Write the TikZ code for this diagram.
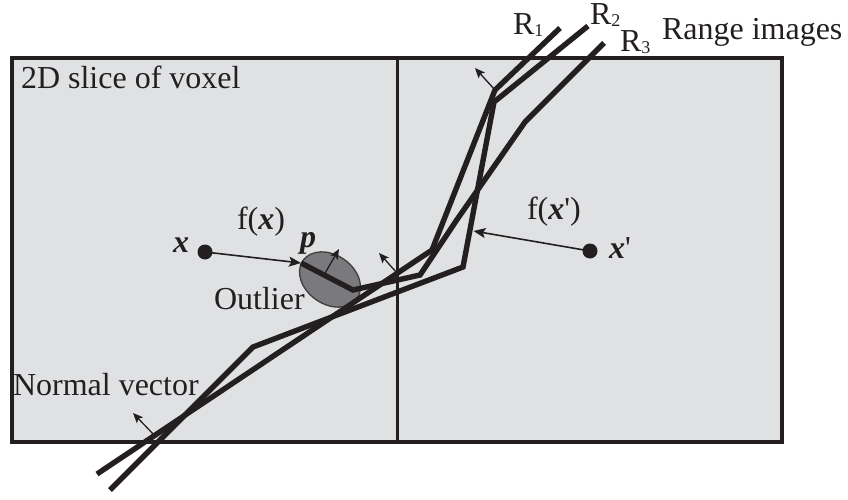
\documentclass[tikz,border=0pt]{standalone}
\usepackage{fontspec}
\setmainfont{Liberation Serif}
\usetikzlibrary{arrows.meta}
\definecolor{ink}{HTML}{231F20}
\definecolor{panel}{HTML}{E0E1E3}
\definecolor{blob}{HTML}{7A7A7D}
\newcommand{\vecx}{\textbf{\textit{x}}}
\newcommand{\vecp}{\textbf{\textit{p}}}
\newcommand{\rsub}[1]{{\fontsize{18}{18}\selectfont\raisebox{-1.6pt}{#1}}}
\tikzset{
  rangeline/.style={line width=5.4pt, draw=ink, line join=miter, miter limit=6},
  framebox/.style={line width=3.6pt, draw=ink, fill=panel},
  dividerline/.style={line width=3pt, draw=ink},
  normalarrow/.style={line width=1.3pt, draw=ink, -{Stealth[length=10pt,width=8.5pt,inset=2pt]}},
  farrow/.style={line width=1.6pt, draw=ink, -{Stealth[length=12pt,width=10pt,inset=2.5pt]}},
  lbl/.style={anchor=base west, inner sep=0pt, outer sep=0pt, font=\fontsize{32}{36}\selectfont, text=ink},
  dotnode/.style={circle, fill=ink, inner sep=0pt, minimum size=15pt},
  blobstyle/.style={fill=blob, draw=ink!85, line width=1.4pt},
}
\begin{document}
\begin{tikzpicture}[x=1pt, y=-1pt]
\useasboundingbox (0,0) rectangle (848,500);

% panel
\draw[framebox] (12,58) rectangle (782,442);
\coordinate (divtop) at (397,58);
\coordinate (divbot) at (397,442);
\draw[dividerline] (divtop) -- (divbot);

% outlier ellipse
\coordinate (ec) at (330,279.5);
\draw[blobstyle, rotate around={-35:(ec)}] (ec) ellipse [x radius=33pt, y radius=24.5pt];

% range image vertices
\coordinate (r1a) at (560,28);
\coordinate (r1b) at (495,90);
\coordinate (r1c) at (432,250);
\coordinate (r1d) at (97,474);
\coordinate (r2a) at (588,26);
\coordinate (r2b) at (494,102);
\coordinate (r2c) at (463,267);
\coordinate (r2d) at (253,347);
\coordinate (r2e) at (110,490);
\coordinate (r3a) at (604,43);
\coordinate (r3b) at (525,122);
\coordinate (r3c) at (456,221);
\coordinate (r3d) at (420,275);
\coordinate (r3e) at (353,290);
\coordinate (p) at (301,263);

\draw[rangeline] (r1a) -- (r1b) -- (r1c) -- (r1d);
\draw[rangeline] (r2a) -- (r2b) -- (r2c) -- (r2d) -- (r2e);
\draw[rangeline] (r3a) -- (r3b) -- (r3c) -- (r3d) -- (r3e) -- (p);

% normal vectors
\coordinate (n1t) at (495,90);   \coordinate (n1h) at (475,68);
\coordinate (n2t) at (397,273);  \coordinate (n2h) at (379,253);
\coordinate (n3t) at (324,275);  \coordinate (n3h) at (339,249);
\coordinate (n4t) at (155,436);  \coordinate (n4h) at (133,413);
\draw[normalarrow] (n1t) -- (n1h);
\draw[normalarrow] (n2t) -- (n2h);
\draw[normalarrow] (n3t) -- (n3h);
\draw[normalarrow] (n4t) -- (n4h);

% points x and x'
\node[dotnode] (xdot) at (205,252) {};
\node[dotnode] (xpdot) at (590,251) {};
\coordinate (fxpt) at (473.5,231);
\draw[farrow] (xdot.center) -- (p);
\draw[farrow] (xpdot.center) -- (fxpt);

% labels
\node[lbl] (title) at (21,89) {2D slice of voxel};
\node[lbl] (normal) at (13,395) {Normal vector};
\node[lbl] (outlier) at (214,309) {Outlier};
\node[lbl] (range) at (662,40) {Range images};
\node[lbl] (R1) at (513,35) {R\rsub{1}};
\node[lbl] (R2) at (590,25) {R\rsub{2}};
\node[lbl] (R3) at (620,52) {R\rsub{3}};
\node[lbl] (xlab) at (173,252) {\vecx};
\node[lbl] (xplab) at (609,258) {\vecx\textquotesingle};
\node[lbl] (plab) at (300,247) {\vecp};
\node[lbl] (fx) at (237,229) {f(\vecx)};
\node[lbl] (fxp) at (527,219) {f(\vecx\textquotesingle)};
\end{tikzpicture}
\end{document}
